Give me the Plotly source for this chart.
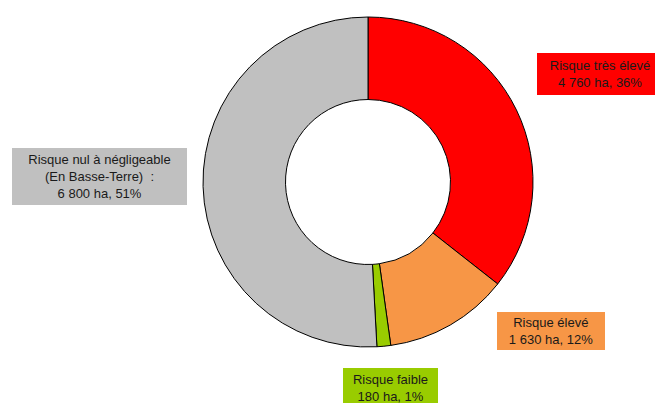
import plotly.graph_objects as go

labels = ["Risque très élevé", "Risque élevé", "Risque faible", "Risque nul à négligeable"]
label_extra = ["", "", "", "<br>(En Basse-Terre)  :"]
areas_ha = [4760, 1630, 180, 6800]
colors = ["#FF0000", "#F79646", "#99CC00", "#C0C0C0"]

# page body has an 8px margin: work in figure coordinates = reference - 8
OFF = 8
W, H = 663 - OFF, 403 - OFF
total = sum(areas_ha)

def fmt(v):
    return f"{v:,}".replace(",", " ")

def px(x):
    return (x - OFF) / W

def py(y):
    return 1 - (y - OFF) / H

fig = go.Figure(go.Pie(
    labels=labels,
    values=areas_ha,
    hole=0.5,
    sort=False,
    direction="clockwise",
    rotation=0,
    textinfo="none",
    marker=dict(colors=colors, line=dict(color="#000000", width=1)),
    domain=dict(x=[px(203), px(533)], y=[py(347), py(17)]),
    showlegend=False,
))

# label boxes: (left, top, width, height) in reference px
boxes = [(537, 53, 126, 42), (497, 312, 108, 38), (343, 368, 95, 40), (12, 148, 175, 57)]
for lab, extra, v, c, (l, t, w, h) in zip(labels, label_extra, areas_ha, colors, boxes):
    pct = round(v / total * 100)
    fig.add_annotation(
        x=px(l), y=py(t), xref="paper", yref="paper",
        xanchor="left", yanchor="top",
        width=w, height=h, align="center", valign="middle",
        text=f"{lab}{extra}<br>{fmt(v)} ha, {pct}%",
        showarrow=False, bgcolor=c, borderpad=0, borderwidth=0,
        font=dict(family="Liberation Sans, Arial, sans-serif", size=13, color="#1a1a1a"),
    )

fig.update_layout(
    width=W, height=H,
    margin=dict(l=0, r=0, t=0, b=0),
    paper_bgcolor="white", plot_bgcolor="white",
)

fig.write_html("out.html")
